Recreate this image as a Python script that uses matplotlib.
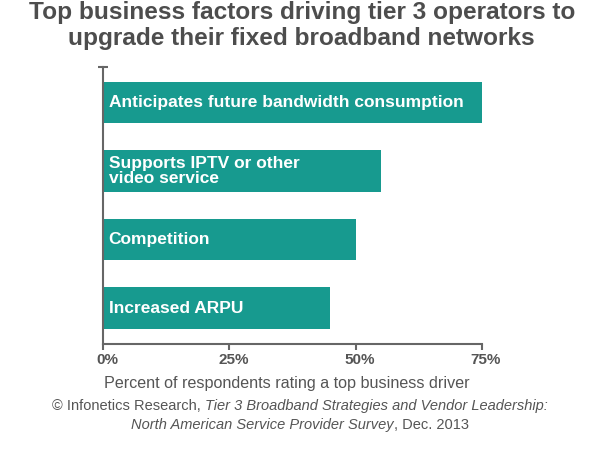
import matplotlib
matplotlib.use("Agg")
import matplotlib.pyplot as plt
from matplotlib.transforms import ScaledTranslation

categories = ["Anticipates future bandwidth consumption",
              "Supports IPTV or other\nvideo service",
              "Competition",
              "Increased ARPU"]
values = [75, 55, 50, 45]
xticks = [0, 25, 50, 75]
xtick_labels = ["0%", "25%", "50%", "75%"]

plt.rcParams['font.family'] = ['Liberation Sans', 'DejaVu Sans']
BAR = "#179a8f"
GREY = "#666666"
TXT = "#555555"

fig = plt.figure(figsize=(6, 4.5), dpi=100)
ax = fig.add_axes([0.1717, 0.2349, 0.6317, 0.617])
pos = list(range(len(categories)))
ax.barh(pos, values, height=0.61, color=BAR, zorder=2)
for p, c in zip(pos, categories):
    ax.text(1.1, p, c, color="white", fontsize=12.5, fontweight="bold",
            va="center", ha="left", linespacing=1.0, zorder=3)
ax.set_xlim(0, 75)
ax.set_ylim(3.53, -0.525)
for s in ["top", "right"]:
    ax.spines[s].set_visible(False)
for s in ["left", "bottom"]:
    ax.spines[s].set_color(GREY)
    ax.spines[s].set_linewidth(1.5)
ax.set_xticks(xticks)
ax.set_xticklabels(xtick_labels, fontsize=11, fontweight="bold", color=TXT)
ax.tick_params(axis="x", length=4, width=1.5, color=GREY, pad=2)
off = ScaledTranslation(4 / 100, 0, fig.dpi_scale_trans)
for lab in ax.get_xticklabels():
    lab.set_transform(lab.get_transform() + off)
ax.set_yticks([-0.525])
ax.set_yticklabels([""])
ax.tick_params(axis="y", direction="inout", length=7, width=1.5, color=GREY)
ax.set_xlabel("Percent of respondents rating a top business driver",
              fontsize=11.6, color=TXT, labelpad=1)
ax.xaxis.set_label_coords(0.485, -0.115)

fig.text(0.503, 1 - 1.5 / 450, "Top business factors driving tier 3 operators to\nupgrade their fixed broadband networks",
         ha="center", va="top", fontsize=17.6, fontweight="bold", color="#4d4d4d", linespacing=1.13)

def rich_line(y, parts, fs=10.5):
    r = fig.canvas.get_renderer()
    objs = []
    for txt, style in parts:
        t = fig.text(0, y, txt, fontsize=fs, style=style, color=TXT, va="baseline", ha="left")
        objs.append(t)
    widths = [o.get_window_extent(r).width for o in objs]
    total = sum(widths)
    x = (fig.bbox.width - total) / 2
    for o, w in zip(objs, widths):
        o.set_x(x / fig.bbox.width)
        x += w

rich_line(1 - 410 / 450, [("© Infonetics Research, ", "normal"),
                          ("Tier 3 Broadband Strategies and Vendor Leadership:", "italic")])
rich_line(1 - 429 / 450, [("North American Service Provider Survey", "italic"),
                          (", Dec. 2013", "normal")])

fig.savefig("out.png", dpi=100)
